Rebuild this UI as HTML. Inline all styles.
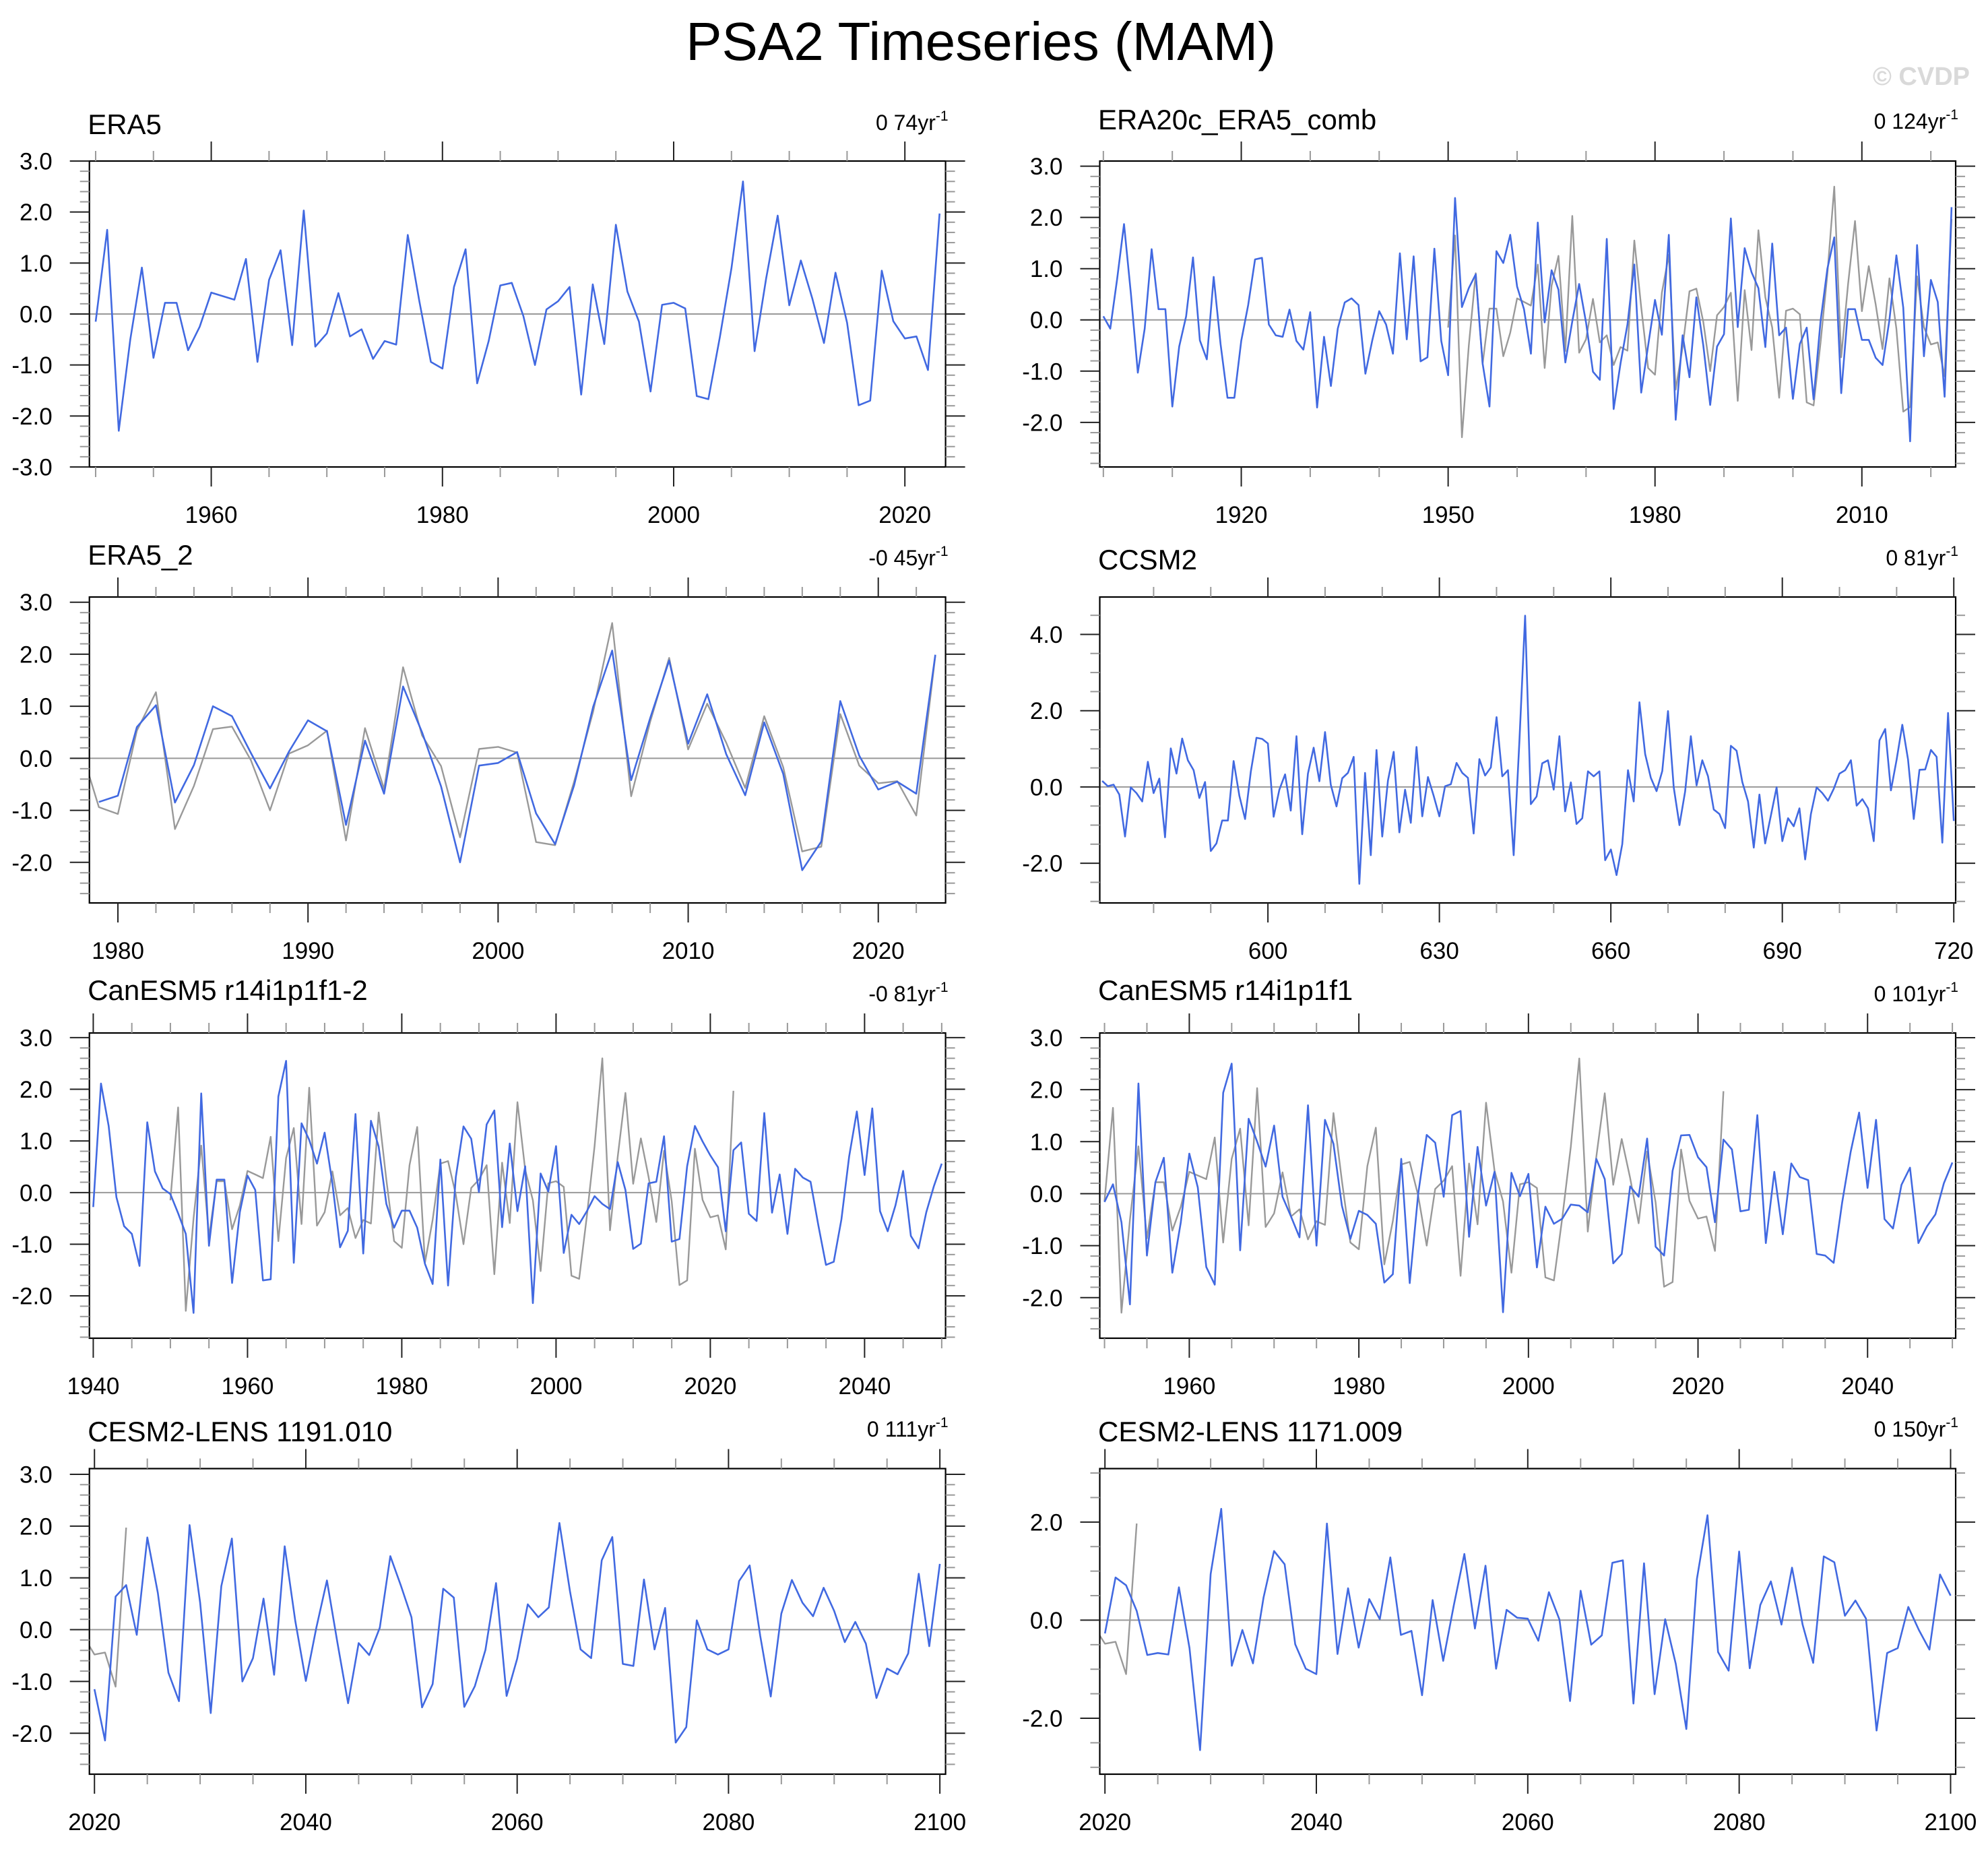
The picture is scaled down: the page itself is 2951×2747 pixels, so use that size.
<!DOCTYPE html>
<html><head><meta charset="utf-8">
<style>
html,body{margin:0;padding:0;background:#fff;}
svg{display:block;font-family:"Liberation Sans",Arial,sans-serif;}
</style></head>
<body>
<svg id="chart" width="2951" height="2747" viewBox="0 0 2951 2747" xmlns="http://www.w3.org/2000/svg">
<rect width="2951" height="2747" fill="#fff"/>
<text x="1456" y="89" font-size="80" text-anchor="middle" fill="#000">PSA2 Timeseries (MAM)</text>
<text x="2924" y="126" font-size="38" font-weight="bold" text-anchor="end" fill="#d9d9d9">© CVDP</text>
</svg>
<script>
// ---------------- DATA ----------------
const era5Start = 1950;
const era5Values = [-0.15,1.65,-2.29,-0.5,0.91,-0.86,0.22,0.22,-0.71,-0.25,0.42,0.35,0.28,1.08,-0.94,0.67,1.25,-0.61,2.03,-0.64,-0.38,0.41,-0.44,-0.3,-0.88,-0.53,-0.6,1.55,0.25,-0.94,-1.07,0.53,1.27,-1.36,-0.53,0.56,0.61,-0.04,-1.0,0.09,0.25,0.53,-1.58,0.58,-0.59,1.75,0.44,-0.15,-1.52,0.18,0.22,0.11,-1.61,-1.67,-0.45,0.9,2.6,-0.73,0.7,1.93,0.17,1.05,0.3,-0.57,0.81,-0.17,-1.79,-1.7,0.85,-0.14,-0.48,-0.44,-1.1,1.97];

const era20cStart = 1900;
const era20cValues = [0.07,-0.17,0.8,1.87,0.5,-1.03,-0.17,1.38,0.21,0.21,-1.69,-0.52,0.07,1.22,-0.4,-0.77,0.84,-0.47,-1.52,-1.52,-0.41,0.29,1.18,1.21,-0.09,-0.3,-0.33,0.2,-0.41,-0.58,0.15,-1.71,-0.33,-1.29,-0.17,0.34,0.42,0.29,-1.05,-0.4,0.17,-0.09,-0.66,1.3,-0.38,1.24,-0.81,-0.73,1.39,-0.41,-1.08,2.38,0.25,0.62,0.89,-0.85,-1.69,1.34,1.11,1.66,0.65,0.21,-0.66,1.9,-0.05,0.97,0.59,-0.83,-0.03,0.7,-0.05,-1.01,-1.17,1.58,-1.74,-0.85,-0.09,1.08,-1.42,-0.5,0.39,-0.29,1.66,-1.95,-0.3,-1.12,0.44,-0.5,-1.66,-0.52,-0.28,1.98,-0.14,1.4,0.93,0.62,-0.53,1.49,-0.3,-0.15,-1.54,-0.47,-0.15,-1.55,-0.03,1.0,1.61,-1.43,0.21,0.21,-0.39,-0.39,-0.74,-0.88,0.0,1.26,0.24,-2.37,1.46,-0.71,0.78,0.35,-1.5,2.2];

const era5bStart = 1979;
const era5bValues = [-0.84,-0.72,0.6,1.02,-0.85,-0.13,1.0,0.81,0.1,-0.58,0.13,0.73,0.52,-1.28,0.34,-0.68,1.38,0.5,-0.54,-2.0,-0.14,-0.09,0.12,-1.06,-1.65,-0.52,0.99,2.07,-0.42,0.77,1.88,0.28,1.23,0.08,-0.71,0.69,-0.3,-2.15,-1.6,1.1,0.05,-0.6,-0.45,-0.68,1.99];

const ccsm2Start = 571;
const ccsm2Values = [0.16,0.02,0.06,-0.2,-1.3,-0.01,-0.16,-0.38,0.66,-0.16,0.22,-1.32,1.01,0.35,1.27,0.7,0.44,-0.29,0.13,-1.68,-1.48,-0.88,-0.88,0.68,-0.23,-0.84,0.4,1.29,1.26,1.14,-0.78,-0.07,0.33,-0.62,1.33,-1.24,0.35,1.03,0.15,1.44,0.06,-0.51,0.23,0.37,0.79,-2.54,0.37,-1.79,0.97,-1.3,0.17,0.92,-1.19,-0.07,-0.94,1.05,-0.77,0.26,-0.23,-0.77,0.02,0.07,0.63,0.37,0.24,-1.22,0.73,0.3,0.51,1.83,0.28,0.44,-1.79,1.2,4.49,-0.45,-0.25,0.62,0.7,-0.07,1.33,-0.64,0.12,-0.97,-0.82,0.41,0.28,0.41,-1.92,-1.64,-2.31,-1.5,0.44,-0.38,2.22,0.86,0.24,-0.11,0.42,1.99,-0.01,-1.0,-0.12,1.33,0.04,0.7,0.28,-0.59,-0.71,-1.08,1.08,0.95,0.13,-0.38,-1.59,-0.2,-1.48,-0.75,-0.01,-1.42,-0.82,-1.03,-0.56,-1.9,-0.71,-0.01,-0.16,-0.36,-0.05,0.35,0.44,0.7,-0.49,-0.32,-0.56,-1.42,1.22,1.52,-0.09,0.72,1.63,0.72,-0.84,0.45,0.46,0.97,0.79,-1.46,1.94,-0.89];

const canA_Start = 1940;
const canA_Values = [-0.28,2.11,1.29,-0.09,-0.65,-0.8,-1.42,1.36,0.41,0.08,-0.03,-0.4,-0.8,-2.33,1.92,-1.03,0.25,0.25,-1.75,-0.38,0.33,0.05,-1.7,-1.68,1.86,2.55,-1.36,1.34,1.02,0.56,1.16,0.18,-1.06,-0.74,1.52,-1.18,1.39,0.89,-0.22,-0.68,-0.35,-0.35,-0.68,-1.38,-1.77,0.64,-1.8,0.3,1.28,1.04,0.01,1.32,1.59,-0.67,0.95,-0.36,0.51,-2.14,0.37,0.02,0.9,-1.17,-0.43,-0.61,-0.36,-0.07,-0.22,-0.32,0.59,0.05,-1.09,-0.99,0.18,0.21,1.09,-0.95,-0.9,0.51,1.29,0.99,0.72,0.49,-0.75,0.82,0.97,-0.41,-0.55,1.54,-0.39,0.35,-0.8,0.46,0.29,0.21,-0.63,-1.4,-1.34,-0.52,0.7,1.57,0.34,1.63,-0.36,-0.75,-0.25,0.42,-0.84,-1.08,-0.38,0.13,0.56];

const canB_Start = 1950;
const canB_Values = [-0.16,0.18,-0.55,-2.13,2.12,-1.19,0.22,0.69,-1.52,-0.55,0.77,0.12,-1.41,-1.75,1.94,2.5,-1.09,1.44,1.0,0.52,1.31,-0.06,-0.44,-0.84,1.7,-1.0,1.42,0.96,-0.23,-0.87,-0.33,-0.41,-0.58,-1.71,-1.55,0.67,-1.72,0.0,1.13,0.98,-0.06,1.51,1.59,-0.83,0.9,-0.23,0.42,-2.28,0.4,-0.05,0.38,-1.42,-0.25,-0.58,-0.48,-0.21,-0.23,-0.36,0.67,0.28,-1.34,-1.16,0.14,-0.06,1.06,-1.02,-1.19,0.44,1.12,1.13,0.7,0.51,-0.55,1.04,0.85,-0.34,-0.31,1.51,-0.95,0.42,-0.78,0.58,0.32,0.26,-1.16,-1.19,-1.33,-0.17,0.8,1.56,0.11,1.42,-0.49,-0.67,0.17,0.5,-0.95,-0.63,-0.4,0.2,0.6];

const cesmA_Start = 2020;
const cesmA_Values = [-1.15,-2.14,0.64,0.86,-0.1,1.78,0.71,-0.83,-1.38,2.02,0.52,-1.61,0.84,1.76,-1.0,-0.55,0.6,-0.87,1.61,0.17,-0.99,0.04,0.95,-0.26,-1.42,-0.26,-0.49,0.04,1.42,0.85,0.24,-1.5,-1.05,0.79,0.62,-1.49,-1.09,-0.39,0.9,-1.28,-0.56,0.49,0.24,0.43,2.06,0.74,-0.38,-0.55,1.34,1.79,-0.66,-0.7,0.97,-0.38,0.42,-2.18,-1.88,0.18,-0.38,-0.48,-0.38,0.94,1.24,-0.12,-1.29,0.31,0.96,0.52,0.26,0.81,0.36,-0.24,0.15,-0.27,-1.32,-0.75,-0.86,-0.46,1.08,-0.32,1.27];

const cesmB_Start = 2020;
const cesmB_Values = [-0.27,0.87,0.71,0.19,-0.71,-0.67,-0.7,0.67,-0.57,-2.65,0.94,2.27,-0.93,-0.2,-0.88,0.46,1.41,1.14,-0.49,-0.99,-1.1,1.97,-0.69,0.65,-0.56,0.43,0.02,1.28,-0.3,-0.22,-1.53,0.41,-0.83,0.3,1.35,-0.17,1.11,-0.99,0.21,0.05,0.03,-0.42,0.57,0.01,-1.65,0.6,-0.5,-0.31,1.17,1.22,-1.7,1.16,-1.51,0.02,-0.89,-2.22,0.84,2.14,-0.65,-1.03,1.4,-0.98,0.31,0.79,-0.09,1.07,-0.09,-0.87,1.3,1.18,0.09,0.4,0.03,-2.25,-0.67,-0.57,0.27,-0.2,-0.6,0.93,0.5];

const panelTitles = ["ERA5","ERA20c_ERA5_comb","ERA5_2","CCSM2","CanESM5 r14i1p1f1-2","CanESM5 r14i1p1f1","CESM2-LENS 1191.010","CESM2-LENS 1171.009"];
const trendLabels = ["0 74yr","0 124yr","-0 45yr","0 81yr","-0 81yr","0 101yr","0 111yr","0 150yr"];

// ---------------- LAYOUT (not data) ----------------
const panels = [
 {start:era5Start, vals:era5Values, gray:false, bx0:132.7,bx1:1403.6,by0:239,by1:693, xmin:1949.46,xmax:2023.52, ymin:-3.0,ymax:3.0, xMajor:20,xMinor:5,xFirst:1950, yLab:[3,2,1,0,-1,-2,-3], yMinor:0.2, titleY:199, trendY:193},
 {start:era20cStart, vals:era20cValues, gray:true, bx0:1632.5,bx1:2903,by0:239,by1:693, xmin:1899.48,xmax:2023.6, ymin:-2.87,ymax:3.10, xMajor:30,xMinor:10,xFirst:1900, yLab:[3,2,1,0,-1,-2], yMinor:0.2, titleY:192, trendY:191},
 {start:era5bStart, vals:era5bValues, gray:true, bx0:132.7,bx1:1403.6,by0:886,by1:1340, xmin:1978.5,xmax:2023.54, ymin:-2.78,ymax:3.1, xMajor:10,xMinor:2,xFirst:1980, yLab:[3,2,1,0,-1,-2], yMinor:0.2, titleY:838, trendY:839},
 {start:ccsm2Start, vals:ccsm2Values, gray:false, bx0:1632.5,bx1:2903,by0:886,by1:1340, xmin:570.58,xmax:720.33, ymin:-3.04,ymax:4.98, xMajor:30,xMinor:10,xFirst:580, yLab:[4,2,0,-2], yMinor:0.5, titleY:845, trendY:839},
 {start:canA_Start, vals:canA_Values, gray:true, bx0:132.7,bx1:1403.6,by0:1533,by1:1986, xmin:1939.5,xmax:2050.5, ymin:-2.82,ymax:3.09, xMajor:20,xMinor:5,xFirst:1940, yLab:[3,2,1,0,-1,-2], yMinor:0.2, titleY:1484, trendY:1486},
 {start:canB_Start, vals:canB_Values, gray:true, bx0:1632.5,bx1:2903,by0:1533,by1:1986, xmin:1949.44,xmax:2050.39, ymin:-2.78,ymax:3.09, xMajor:20,xMinor:5,xFirst:1950, yLab:[3,2,1,0,-1,-2], yMinor:0.2, titleY:1484, trendY:1486},
 {start:cesmA_Start, vals:cesmA_Values, gray:true, bx0:132.7,bx1:1403.6,by0:2179.5,by1:2633, xmin:2019.52,xmax:2100.54, ymin:-2.79,ymax:3.11, xMajor:20,xMinor:5,xFirst:2020, yLab:[3,2,1,0,-1,-2], yMinor:0.2, titleY:2139, trendY:2132},
 {start:cesmB_Start, vals:cesmB_Values, gray:true, bx0:1632.5,bx1:2903,by0:2179.5,by1:2633, xmin:2019.51,xmax:2100.48, ymin:-3.14,ymax:3.09, xMajor:20,xMinor:5,xFirst:2020, yLab:[2,0,-2], yMinor:0.5, titleY:2139, trendY:2132}
];

const NS = "http://www.w3.org/2000/svg";
const svg = document.getElementById("chart");
function mk(tag, attrs, parent){
  const e = document.createElementNS(NS, tag);
  for (const k in attrs) e.setAttribute(k, attrs[k]);
  (parent||svg).appendChild(e);
  return e;
}

panels.forEach((p, i) => {
  const g = mk("g", {});
  
  
  const xs = v => p.bx0 + (v - p.xmin) / (p.xmax - p.xmin) * (p.bx1 - p.bx0);
  const ys = v => p.by1 - (v - p.ymin) / (p.ymax - p.ymin) * (p.by1 - p.by0);

  // clip
  const cp = mk("clipPath", {id:"clip"+i}, g);
  mk("rect", {x:p.bx0, y:p.by0, width:p.bx1-p.bx0, height:p.by1-p.by0}, cp);

  // zero line
  const zl = mk("line", {x1:p.bx0, x2:p.bx1, y1:ys(0), y2:ys(0), stroke:"#999", "stroke-width":2}, g);
  
  

  // gray reference (ERA5)
  if (p.gray) {
    const pts = era5Values.map((v, k) => xs(era5Start + k).toFixed(1) + "," + ys(v).toFixed(1)).join(" ");
    const gl = mk("polyline", {points:pts, fill:"none", stroke:"#999", "stroke-width":2.4, "stroke-linejoin":"round", "clip-path":"url(#clip"+i+")"}, g);
    
    
  }
  // blue series
  const bpts = p.vals.map((v, k) => xs(p.start + k).toFixed(1) + "," + ys(v).toFixed(1)).join(" ");
  const bl = mk("polyline", {points:bpts, fill:"none", stroke:"#4169e1", "stroke-width":2.6, "stroke-linejoin":"round", "clip-path":"url(#clip"+i+")"}, g);
  
  

  // box
  const box = mk("rect", {x:p.bx0, y:p.by0, width:p.bx1-p.bx0, height:p.by1-p.by0, fill:"none", stroke:"#000", "stroke-width":2.2}, g);
  
  

  // x ticks
  for (let t = p.xFirst; t <= p.xmax + 1e-6; t += p.xMinor) {
    if (t < p.xmin) continue;
    const major = Math.abs(((t % p.xMajor) + p.xMajor) % p.xMajor) < 1e-6;
    const L = major ? 29 : 15;
    const x = xs(t);
    const col = major ? "#222" : "#999";
    mk("line", {x1:x, x2:x, y1:p.by0, y2:p.by0-L, stroke:col, "stroke-width":2}, g);
    mk("line", {x1:x, x2:x, y1:p.by1, y2:p.by1+L, stroke:col, "stroke-width":2}, g);
    if (major) {
      const tl = mk("text", {x:x, y:p.by1+83, "font-size":35, "text-anchor":"middle", fill:"#000"}, g);
      tl.textContent = String(t);
      
      
    }
  }
  // y ticks
  const n0 = Math.ceil((p.ymin - 1e-6) / p.yMinor), n1 = Math.floor((p.ymax + 1e-6) / p.yMinor);
  for (let n = n0; n <= n1; n++) {
    const v = n * p.yMinor;
    const major = p.yLab.some(l => Math.abs(l - v) < 1e-6);
    const L = major ? 29 : 14;
    const y = ys(v);
    const col = major ? "#222" : "#999";
    mk("line", {x1:p.bx0, x2:p.bx0-L, y1:y, y2:y, stroke:col, "stroke-width":2}, g);
    mk("line", {x1:p.bx1, x2:p.bx1+L, y1:y, y2:y, stroke:col, "stroke-width":2}, g);
    if (major) {
      const tl = mk("text", {x:p.bx0-55, y:y+12.5, "font-size":35, "text-anchor":"end", fill:"#000"}, g);
      tl.textContent = v.toFixed(1);
      
      
    }
  }
  // title
  const tt = mk("text", {x:p.bx0-2.5, y:p.titleY, "font-size":42, fill:"#000"}, g);
  tt.textContent = panelTitles[i];
  
  
  // trend
  const tr = mk("text", {x:p.bx1+4, y:p.trendY, "font-size":32, "text-anchor":"end", fill:"#000"}, g);
  
  
  const s1 = mk("tspan", {}, tr); s1.textContent = trendLabels[i];
  const s2 = mk("tspan", {dy:-14, "font-size":21}, tr); s2.textContent = "-1";
});
</script>
</body></html>
